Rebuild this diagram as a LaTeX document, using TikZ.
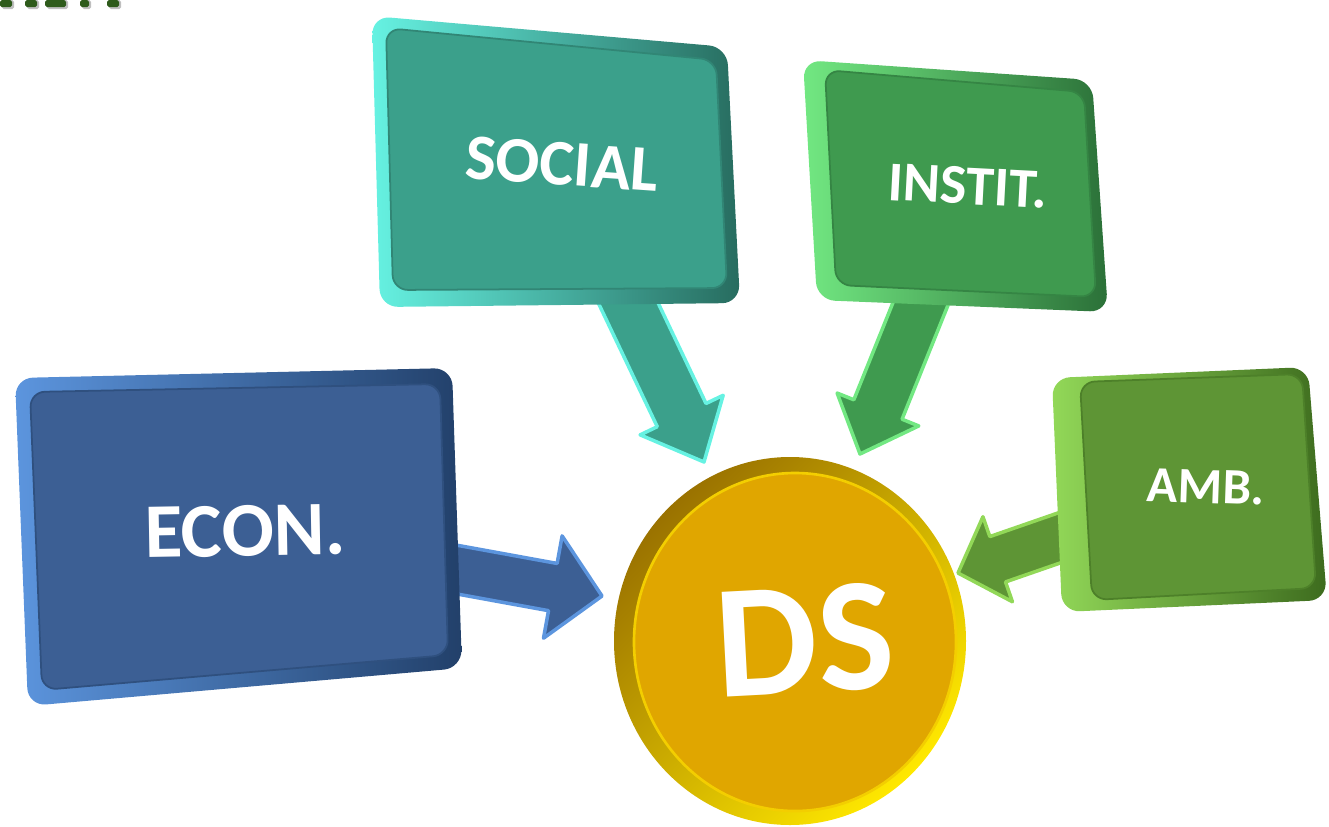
\documentclass[tikz,border=0pt]{standalone}
\usepackage{fontspec}
\setmainfont{Carlito}
\usetikzlibrary{calc}
\pgfdeclarelayer{arrowlayer}
\pgfdeclarelayer{boxlayer}
\pgfsetlayers{arrowlayer,boxlayer,main}
\definecolor{econFace}{HTML}{3C5F94}
\definecolor{econLight}{HTML}{5C95DE}
\definecolor{econDark}{HTML}{22406A}
\definecolor{socFace}{HTML}{3BA08B}
\definecolor{socLight}{HTML}{66F2E2}
\definecolor{socDark}{HTML}{276C5F}
\definecolor{insFace}{HTML}{3F9A4F}
\definecolor{insLight}{HTML}{72E882}
\definecolor{insDark}{HTML}{2B7038}
\definecolor{ambFace}{HTML}{5E9535}
\definecolor{ambLight}{HTML}{92D858}
\definecolor{ambDark}{HTML}{3D6B1E}
\definecolor{dsFace}{HTML}{E0A600}
\definecolor{dsLight}{HTML}{FFE800}
\definecolor{dsDark}{HTML}{9A7200}
\definecolor{topGreen}{HTML}{2E5B1B}
\newcommand\blockarr[6]{%
  \path ($(#2)!#5!(#1)$) coordinate (hb);
  \filldraw[#6] ($(#1)!#3!90:(#2)$) -- ($(hb)!#3!90:(#2)$) -- ($(hb)!#4!90:(#2)$)
    -- (#2) -- ($(hb)!#4!-90:(#2)$) -- ($(hb)!#3!-90:(#2)$) -- ($(#1)!#3!-90:(#2)$) -- cycle;}
\tikzset{
  lbl/.style={text=white, font=\bfseries, inner sep=0pt},
  arrowbody/.style={line width=2pt, line join=round},
  rim/.style={rounded corners=0.36cm, shading angle=-45},
  face/.style={rounded corners=0.3cm, line width=1pt},
}
\begin{document}
\begin{tikzpicture}[x=0.02cm,y=-0.02cm]
\useasboundingbox (0,0) rectangle (1329,826);
% fragments of cut-off title
\foreach \a/\b in {0/12,25/37,45/66,80/89,107/119}{
  \fill[black!25, rounded corners=1pt] (\a+2,0) rectangle (\b+2,9);
  \fill[topGreen, rounded corners=1pt] (\a,0) rectangle (\b,7);
}
% label nodes
\node[lbl, font=\bfseries\fontsize{44}{48}\selectfont, rotate=1] (econ) at (245,531) {ECON.};
\node[lbl, font=\bfseries\fontsize{37}{42}\selectfont, rotate=-4] (social) at (562,164) {SOCIAL};
\node[lbl, font=\bfseries\fontsize{32}{36}\selectfont, rotate=-3] (instit) at (968,186) {INSTIT.};
\node[lbl, font=\bfseries\fontsize{29}{33}\selectfont, rotate=-2] (amb) at (1206,487) {AMB.};
\node[lbl, font=\bfseries\fontsize{92}{96}\selectfont, rotate=3] (ds) at (805,640) {DS};
% arrow tips on the circle
\coordinate (tE) at (602,596);
\coordinate (tS) at (704,462);
\coordinate (tI) at (860,454);
\coordinate (tA) at (958,573);
\begin{pgfonlayer}{arrowlayer}
\blockarr{econ}{tE}{0.48cm}{1.04cm}{1.0cm}{arrowbody, fill=econFace, draw=econLight}
\blockarr{social}{tS}{0.54cm}{0.92cm}{1.04cm}{arrowbody, fill=socFace, draw=socLight}
\blockarr{instit}{tI}{0.52cm}{0.88cm}{0.96cm}{arrowbody, fill=insFace, draw=insLight}
\blockarr{amb}{tA}{0.48cm}{0.9cm}{0.84cm}{arrowbody, fill=ambFace, draw=ambLight}
\end{pgfonlayer}
\begin{pgfonlayer}{boxlayer}
% ECON
\shade[rim, left color=econLight, right color=econDark]
  (15,378) -- (452,368) -- (462,668) -- (28,706) -- cycle;
\filldraw[face, fill=econFace, draw=econDark!50!econFace] (30,392) -- (440,384) -- (448,655) -- (42,690) -- cycle;
% SOCIAL
\shade[rim, left color=socLight, right color=socDark]
  (372,16) -- (727,47) -- (740,303) -- (380,307) -- cycle;
\filldraw[face, fill=socFace, draw=socDark!50!socFace] (386,28) -- (716,60) -- (727,288) -- (393,290) -- cycle;
% INSTIT
\shade[rim, left color=insLight, right color=insDark]
  (803,60) -- (1092,80) -- (1108,312) -- (817,300) -- cycle;
\filldraw[face, fill=insFace, draw=insDark!50!insFace] (825,70) -- (1084,92) -- (1096,297) -- (836,285) -- cycle;
% AMB
\shade[rim, left color=ambLight, right color=ambDark]
  (1052,378) -- (1308,367) -- (1327,600) -- (1062,612) -- cycle;
\filldraw[face, fill=ambFace, draw=ambDark!50!ambFace] (1080,382) -- (1302,374) -- (1316,588) -- (1092,600) -- cycle;
% DS disc
\shade[left color=dsDark, right color=dsLight, shading angle=45]
  (790,641) ellipse [x radius=176, y radius=184];
\filldraw[fill=dsFace, draw=dsLight!60!dsFace, line width=1.5pt]
  (795,642) ellipse [x radius=161, y radius=169];
\end{pgfonlayer}
\end{tikzpicture}
\end{document}
